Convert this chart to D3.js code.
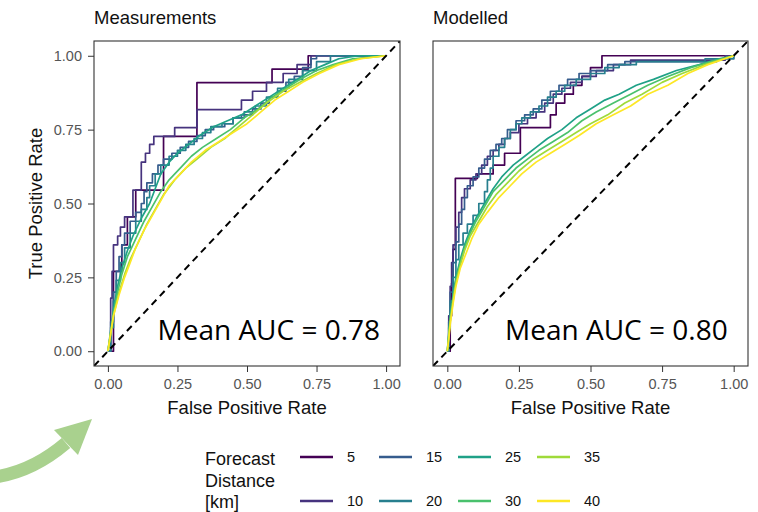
<!DOCTYPE html>
<html>
<head>
<meta charset="utf-8">
<script src="https://cdn.jsdelivr.net/npm/d3@7"></script>
<style>
  body { margin: 0; background: #fff; }
  svg { display: block; font-family: "Liberation Sans", Arial, sans-serif; }
</style>
</head>
<body>
<svg id="chart" width="758" height="512"></svg>
<script>

// Categories and labels
const distancias = [5, 10, 15, 20, 25, 30, 35, 40];
const panelTitles = ['Measurements', 'Modelled'];
const meanAuc = ['0.78', '0.80'];
const tickValues = [0, 0.25, 0.5, 0.75, 1];

// ROC curves, Measurements panel  [FPR, TPR]
const meas5 = [[0,0],[0.02,0.27],[0.05,0.36],[0.07,0.455],[0.1,0.545],[0.2,0.727],[0.32,0.909],[0.59,0.955],[0.72,1],[1,1]];
const meas10 = [[0,0],[0.01,0.18],[0.015,0.27],[0.02,0.36],[0.035,0.39],[0.045,0.42],[0.06,0.455],[0.09,0.545],[0.12,0.64],[0.135,0.67],[0.15,0.7],[0.165,0.727],[0.24,0.757],[0.32,0.818],[0.48,0.85],[0.52,0.88],[0.57,0.91],[0.63,0.94],[0.68,0.97],[0.73,1],[1,1]];
const meas15 = [[0,0],[0.01,0.1],[0.02,0.2],[0.03,0.27],[0.04,0.32],[0.05,0.36],[0.06,0.4],[0.08,0.44],[0.1,0.47],[0.12,0.5],[0.13,0.54],[0.14,0.57],[0.16,0.6],[0.18,0.63],[0.2,0.65],[0.23,0.67],[0.26,0.69],[0.29,0.71],[0.32,0.73],[0.35,0.75],[0.38,0.76],[0.42,0.77],[0.45,0.79],[0.48,0.8],[0.52,0.82],[0.55,0.84],[0.58,0.86],[0.61,0.88],[0.64,0.91],[0.67,0.93],[0.7,0.96],[0.73,0.99],[0.75,1],[1,1]];
const meas20 = [[0,0],[0.01,0.08],[0.02,0.17],[0.03,0.24],[0.045,0.3],[0.06,0.35],[0.08,0.4],[0.1,0.44],[0.12,0.48],[0.14,0.52],[0.15,0.56],[0.17,0.6],[0.19,0.63],[0.22,0.66],[0.25,0.68],[0.28,0.7],[0.31,0.72],[0.34,0.74],[0.37,0.76],[0.41,0.77],[0.45,0.79],[0.49,0.81],[0.53,0.83],[0.57,0.86],[0.61,0.89],[0.65,0.92],[0.7,0.95],[0.75,0.98],[0.8,1],[1,1]];
const meas25 = [[0,0],[0.01,0.07],[0.02,0.14],[0.035,0.22],[0.05,0.28],[0.07,0.34],[0.09,0.39],[0.12,0.45],[0.15,0.5],[0.17,0.55],[0.19,0.6],[0.22,0.64],[0.25,0.67],[0.29,0.7],[0.33,0.73],[0.38,0.76],[0.43,0.78],[0.48,0.8],[0.53,0.83],[0.58,0.86],[0.63,0.89],[0.68,0.92],[0.73,0.95],[0.78,0.97],[0.83,0.99],[0.9,1],[1,1]];
const meas30 = [[0,0],[0.01,0.06],[0.02,0.13],[0.035,0.2],[0.05,0.26],[0.07,0.32],[0.1,0.38],[0.13,0.44],[0.16,0.49],[0.19,0.54],[0.22,0.58],[0.26,0.62],[0.3,0.66],[0.34,0.69],[0.39,0.72],[0.44,0.75],[0.49,0.79],[0.54,0.82],[0.59,0.86],[0.64,0.89],[0.69,0.92],[0.75,0.95],[0.81,0.97],[0.88,0.99],[0.94,0.995],[1,1]];
const meas35 = [[0,0],[0.01,0.06],[0.02,0.12],[0.04,0.2],[0.06,0.26],[0.08,0.31],[0.11,0.37],[0.14,0.43],[0.17,0.48],[0.2,0.53],[0.24,0.58],[0.28,0.62],[0.32,0.65],[0.37,0.69],[0.42,0.72],[0.47,0.76],[0.52,0.8],[0.57,0.84],[0.63,0.88],[0.69,0.91],[0.75,0.94],[0.82,0.97],[0.9,0.99],[1,1]];
const meas40 = [[0,0],[0.01,0.06],[0.02,0.12],[0.04,0.19],[0.06,0.25],[0.08,0.3],[0.1,0.35],[0.13,0.41],[0.16,0.46],[0.19,0.51],[0.22,0.56],[0.26,0.6],[0.3,0.64],[0.35,0.68],[0.4,0.71],[0.45,0.74],[0.5,0.77],[0.55,0.81],[0.6,0.85],[0.65,0.88],[0.7,0.91],[0.76,0.94],[0.83,0.97],[0.91,0.99],[1,1]];

// ROC curves, Modelled panel  [FPR, TPR]
const mod5 = [[0,0],[0.01,0.12],[0.015,0.23],[0.02,0.345],[0.028,0.585],[0.105,0.6],[0.16,0.63],[0.2,0.67],[0.255,0.757],[0.36,0.8],[0.38,0.84],[0.41,0.87],[0.44,0.9],[0.47,0.93],[0.5,0.96],[0.54,1],[1,1]];
const mod10 = [[0,0],[0.005,0.12],[0.01,0.22],[0.015,0.3],[0.02,0.36],[0.03,0.42],[0.04,0.47],[0.05,0.52],[0.06,0.55],[0.08,0.58],[0.1,0.6],[0.12,0.63],[0.14,0.66],[0.16,0.68],[0.18,0.7],[0.2,0.72],[0.22,0.74],[0.25,0.77],[0.28,0.79],[0.31,0.81],[0.34,0.84],[0.37,0.87],[0.4,0.89],[0.43,0.91],[0.47,0.93],[0.52,0.95],[0.58,0.97],[0.64,0.985],[0.97,1],[1,1]];
const mod15 = [[0,0],[0.005,0.1],[0.01,0.2],[0.02,0.3],[0.03,0.37],[0.04,0.43],[0.05,0.48],[0.06,0.52],[0.07,0.56],[0.09,0.59],[0.11,0.62],[0.13,0.65],[0.15,0.68],[0.17,0.7],[0.19,0.72],[0.21,0.75],[0.24,0.78],[0.27,0.8],[0.3,0.82],[0.33,0.85],[0.36,0.88],[0.39,0.9],[0.42,0.92],[0.46,0.94],[0.5,0.95],[0.56,0.97],[0.62,0.98],[0.94,0.99],[1,1]];
const mod20 = [[0,0],[0.005,0.08],[0.01,0.17],[0.02,0.25],[0.03,0.31],[0.04,0.36],[0.055,0.4],[0.07,0.43],[0.09,0.46],[0.11,0.5],[0.13,0.54],[0.14,0.58],[0.15,0.62],[0.16,0.66],[0.18,0.69],[0.2,0.72],[0.22,0.75],[0.24,0.77],[0.26,0.79],[0.29,0.81],[0.32,0.83],[0.35,0.86],[0.38,0.88],[0.41,0.9],[0.45,0.92],[0.5,0.94],[0.55,0.96],[0.6,0.97],[0.66,0.98],[0.9,0.99],[1,1]];
const mod25 = [[0,0],[0.005,0.06],[0.01,0.12],[0.02,0.19],[0.03,0.25],[0.045,0.31],[0.06,0.36],[0.08,0.41],[0.1,0.45],[0.13,0.5],[0.16,0.55],[0.19,0.59],[0.23,0.63],[0.27,0.66],[0.31,0.69],[0.35,0.72],[0.4,0.75],[0.45,0.79],[0.5,0.82],[0.55,0.85],[0.6,0.87],[0.66,0.9],[0.72,0.92],[0.8,0.95],[0.88,0.97],[0.95,0.99],[1,1]];
const mod30 = [[0,0],[0.005,0.05],[0.01,0.11],[0.02,0.18],[0.03,0.24],[0.045,0.3],[0.06,0.35],[0.08,0.4],[0.1,0.44],[0.13,0.49],[0.16,0.54],[0.2,0.58],[0.24,0.62],[0.28,0.65],[0.32,0.68],[0.37,0.71],[0.42,0.74],[0.47,0.78],[0.52,0.81],[0.58,0.84],[0.64,0.87],[0.7,0.9],[0.77,0.93],[0.85,0.96],[0.92,0.98],[1,1]];
const mod35 = [[0,0],[0.005,0.05],[0.01,0.1],[0.02,0.17],[0.03,0.23],[0.045,0.29],[0.06,0.34],[0.08,0.39],[0.11,0.44],[0.14,0.49],[0.17,0.53],[0.21,0.57],[0.25,0.61],[0.3,0.65],[0.35,0.68],[0.4,0.71],[0.45,0.74],[0.5,0.77],[0.56,0.8],[0.62,0.84],[0.68,0.87],[0.75,0.91],[0.82,0.94],[0.9,0.97],[1,1]];
const mod40 = [[0,0],[0.005,0.04],[0.01,0.09],[0.02,0.16],[0.03,0.22],[0.045,0.28],[0.065,0.33],[0.085,0.38],[0.11,0.43],[0.14,0.47],[0.18,0.52],[0.22,0.56],[0.26,0.6],[0.31,0.64],[0.36,0.67],[0.41,0.7],[0.46,0.73],[0.52,0.77],[0.58,0.8],[0.64,0.83],[0.7,0.87],[0.77,0.9],[0.84,0.94],[0.91,0.97],[1,1]];

const measCurves = [meas5, meas10, meas15, meas20, meas25, meas30, meas35, meas40];
const modCurves = [mod5, mod10, mod15, mod20, mod25, mod30, mod35, mod40];

// Styles
const colores = ['#440154', '#46337E', '#365C8D', '#277F8E', '#1FA187', '#4AC16D', '#9FDA3A', '#FDE725'];
const escalonadas = [5, 10, 15, 20];   // drawn as steps

const svg = d3.select('#chart');

const yScale = d3.scaleLinear().domain([-0.05, 1.05]).range([366, 41]);

const paneles = [
  { title: panelTitles[0], auc: meanAuc[0], curves: measCurves, x0: 94, x1: 400, showY: true },
  { title: panelTitles[1], auc: meanAuc[1], curves: modCurves, x0: 433, x1: 748, showY: false }
];

const color = d3.scaleOrdinal().domain(distancias).range(colores);

paneles.forEach((p, k) => {

  const xScale = d3.scaleLinear().domain([-0.05, 1.05]).range([p.x0, p.x1]);

  // clip to the panel
  svg.append('clipPath')
    .attr('id', 'clip' + k)
    .append('rect')
    .attr('x', p.x0).attr('y', 41)
    .attr('width', p.x1 - p.x0).attr('height', 366 - 41);

  const g = svg.append('g').attr('clip-path', 'url(#clip' + k + ')');

  // curves
  p.curves.forEach((c, i) => {
    const linea = d3.line()
      .x((d) => xScale(d[0]))
      .y((d) => yScale(d[1]))
      .curve(escalonadas.includes(distancias[i]) ? d3.curveStepAfter : d3.curveLinear);

    g.append('path')
      .datum(c)
      .attr('d', linea)
      .attr('fill', 'none')
      .attr('stroke', color(distancias[i]))
      .attr('stroke-width', 1.7)
      .attr('stroke-linejoin', 'round');
  });

  // diagonal reference
  g.append('line')
    .attr('x1', xScale(-0.05)).attr('y1', yScale(-0.05))
    .attr('x2', xScale(1.05)).attr('y2', yScale(1.05))
    .attr('stroke', '#000')
    .attr('stroke-width', 2)
    .attr('stroke-dasharray', '7,5');

  // panel border
  svg.append('rect')
    .attr('x', p.x0).attr('y', 41)
    .attr('width', p.x1 - p.x0).attr('height', 366 - 41)
    .attr('fill', 'none')
    .attr('stroke', '#333')
    .attr('stroke-width', 1.1);

  // x axis
  const xAxis = d3.axisBottom(xScale)
    .tickValues(tickValues)
    .tickFormat(d3.format('.2f'))
    .tickSize(6)
    .tickPadding(7);

  const gx = svg.append('g')
    .attr('transform', 'translate(0,366)')
    .call(xAxis);
  gx.select('.domain').remove();
  gx.selectAll('line').attr('stroke', '#333');
  gx.selectAll('text').attr('fill', '#555').style('font-size', '14.5px');

  // y axis only on the first panel
  if (p.showY) {
    const yAxis = d3.axisLeft(yScale)
      .tickValues(tickValues)
      .tickFormat(d3.format('.2f'))
      .tickSize(6)
      .tickPadding(6);

    const gy = svg.append('g')
      .attr('transform', 'translate(' + p.x0 + ',0)')
      .call(yAxis);
    gy.select('.domain').remove();
    gy.selectAll('line').attr('stroke', '#333');
    gy.selectAll('text').attr('fill', '#555').style('font-size', '14.5px');

    svg.append('text')
      .attr('transform', 'translate(42,' + (41 + 366) / 2 + ') rotate(-90)')
      .attr('text-anchor', 'middle')
      .style('font-size', '18.5px')
      .attr('fill', '#111')
      .text('True Positive Rate');
  }

  // panel title
  svg.append('text')
    .attr('x', p.x0)
    .attr('y', 24)
    .style('font-size', '18.5px')
    .attr('fill', '#111')
    .text(p.title);

  // x title
  svg.append('text')
    .attr('x', (p.x0 + p.x1) / 2)
    .attr('y', 414)
    .attr('text-anchor', 'middle')
    .style('font-size', '18.5px')
    .attr('fill', '#111')
    .text('False Positive Rate');

  // mean AUC annotation
  svg.append('text')
    .attr('x', xScale(1) - 6)
    .attr('y', 340)
    .attr('text-anchor', 'end')
    .style('font-family', '"Open Sans", sans-serif')
    .style('font-size', '28px')
    .attr('fill', '#000')
    .text('Mean AUC = ' + p.auc);
});

// Legend
const leyenda = svg.append('g');

['Forecast', 'Distance', '[km]'].forEach((t, i) => {
  leyenda.append('text')
    .attr('x', 205)
    .attr('y', 465 + i * 21.5)
    .style('font-size', '18px')
    .attr('fill', '#111')
    .text(t);
});

const colX = d3.scaleLinear().domain([0, 3]).range([300, 537]);
const rowY = d3.scaleLinear().domain([0, 1]).range([457, 501]);

const items = leyenda.selectAll('g.item')
  .data(distancias)
  .enter()
  .append('g')
  .attr('class', 'item')
  .attr('transform', (d, i) => 'translate(' + colX(Math.floor(i / 2)) + ',' + rowY(i % 2) + ')');

items.append('line')
  .attr('x1', 0).attr('x2', 33)
  .attr('y1', 0).attr('y2', 0)
  .attr('stroke', (d) => color(d))
  .attr('stroke-width', 2.5);

items.append('text')
  .attr('x', 47)
  .attr('dy', '0.36em')
  .style('font-size', '14.5px')
  .attr('fill', '#111')
  .text((d) => d);

// Green arrow bottom-left
svg.append('path')
  .attr('d', 'M-6,477 Q32,472 66,443')
  .attr('fill', 'none')
  .attr('stroke', '#a9d18e')
  .attr('stroke-width', 13);

svg.append('path')
  .attr('d', 'M92,419 L54,430 L78,455 Z')
  .attr('fill', '#a9d18e');

</script>
</body>
</html>
